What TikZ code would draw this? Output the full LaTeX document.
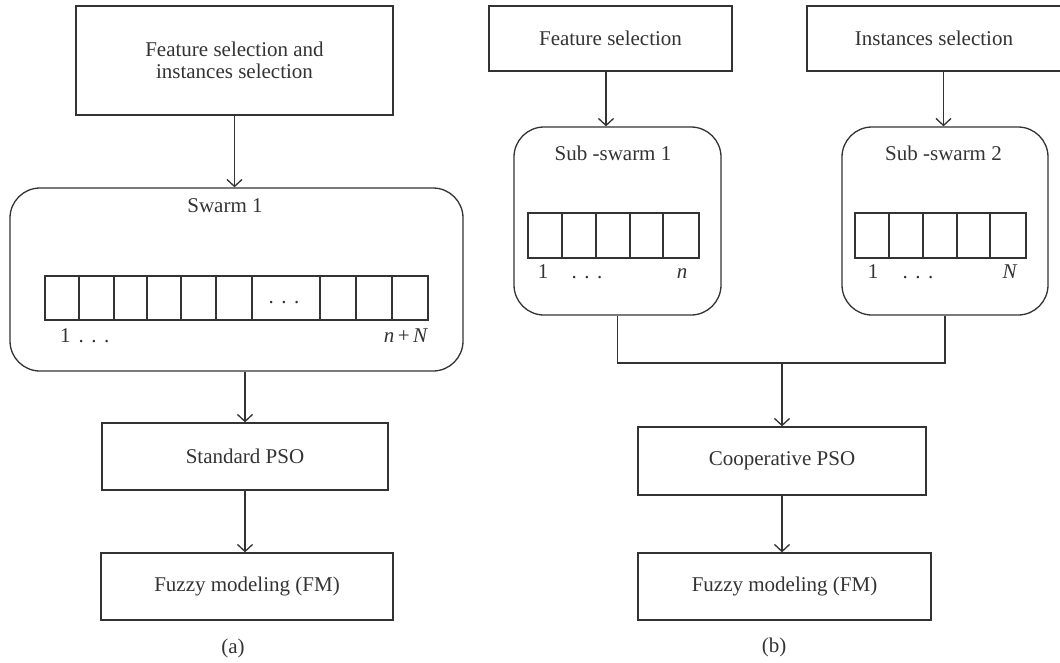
\documentclass[tikz,border=0pt]{standalone}
\usepackage{fontspec}
\setmainfont{Liberation Serif}
\usetikzlibrary{arrows.meta}
\definecolor{ink}{HTML}{333333}
\newcommand{\sdots}{.\hspace{7.5pt}.\hspace{7.5pt}.}
\begin{document}
\begin{tikzpicture}[x=1pt,y=-1pt,
  every node/.style={text=ink, font=\fontsize{21}{22}\selectfont},
  box/.style={draw=ink, line width=1.3pt, inner sep=0pt},
  rbox/.style={draw=ink, line width=1.3pt, inner sep=0pt, rounded corners=30pt},
  conn/.style={draw=ink, line width=1.3pt},
  arr/.style={conn, -{Straight Barb[length=7pt,width=15pt,line width=1.3pt]}},
  lbl/.style={inner sep=0pt, anchor=base}]
\useasboundingbox (0,0) rectangle (1060,662);

% ---------- (a) ----------
\node[box, minimum width=317pt, minimum height=109pt, align=center] (topA) at (234.5,60.5)
  {Feature selection and\\instances selection};
\node[rbox, minimum width=453pt, minimum height=183pt] (swarm) at (236.5,279.5) {};
\node[inner sep=0pt] (swarmT) at (225,206) {Swarm 1};
\draw[conn] (45,276) rectangle (428,320);
\foreach \xx in {79,114,147,181,216,252,320,356,392}
  \draw[conn] (\xx,276) -- (\xx,320);
\node[lbl] (dotsA) at (284,303) {\sdots};
\node[lbl, anchor=base west] (oneA) at (60,342) {1\hspace{8pt}\sdots};
\node[lbl] (nNA) at (406,342) {\textit{n}\,+\,\textit{N}};
\node[box, minimum width=286pt, minimum height=67pt] (stdpso) at (245,456.5) {Standard PSO};
\node[box, minimum width=292pt, minimum height=67pt] (fuzzA) at (247,586.5) {Fuzzy modeling (FM)};
\node[inner sep=0pt] (capA) at (233,648) {(a)};

\draw[arr] (topA.south) -- (topA.south |- swarm.north);
\draw[arr] (stdpso.north |- swarm.south) -- (stdpso.north);
\draw[arr] (stdpso.south) -- (stdpso.south |- fuzzA.north);

% ---------- (b) ----------
\node[box, minimum width=243pt, minimum height=65pt] (featB) at (610.5,38.5) {Feature selection};
\node[box, minimum width=254pt, minimum height=65pt] (instB) at (934,38.5) {Instances selection};
\node[rbox, minimum width=207pt, minimum height=188pt] (sub1) at (617.5,221) {};
\node[rbox, minimum width=206pt, minimum height=188pt] (sub2) at (945,221) {};
\node[inner sep=0pt] (sub1T) at (613,153) {Sub -swarm 1};
\node[inner sep=0pt] (sub2T) at (943.5,153) {Sub -swarm 2};
\draw[conn] (528,213) rectangle (699,258);
\foreach \xx in {562,596,630,663}
  \draw[conn] (\xx,213) -- (\xx,258);
\draw[conn] (855,213) rectangle (1026,258);
\foreach \xx in {889,923,957,990}
  \draw[conn] (\xx,213) -- (\xx,258);
\node[lbl] (oneB1) at (543,278) {1};
\node[lbl] (dotsB1) at (587,278) {\sdots};
\node[lbl] (nB1) at (682,278) {\textit{n}};
\node[lbl] (oneB2) at (873,278) {1};
\node[lbl] (dotsB2) at (918,278) {\sdots};
\node[lbl] (NB2) at (1010,278) {\textit{N}};
\node[box, minimum width=288pt, minimum height=68pt] (coop) at (782,461) {Cooperative PSO};
\node[box, minimum width=293pt, minimum height=67pt] (fuzzB) at (784.5,586.5) {Fuzzy modeling (FM)};
\node[inner sep=0pt] (capB) at (774,647) {(b)};

\draw[arr] (featB.south -| 606,0) -- (sub1.north -| 606,0);
\draw[arr] (instB.south -| sub2T) -- (sub2.north -| sub2T);
\coordinate (j) at (782,363);
\draw[conn] (sub1.south) -- (sub1.south |- j) -- (sub2.south |- j) -- (sub2.south);
\draw[arr] (j) -- (coop.north);
\draw[arr] (coop.south) -- (coop.south |- fuzzB.north);
\end{tikzpicture}
\end{document}
